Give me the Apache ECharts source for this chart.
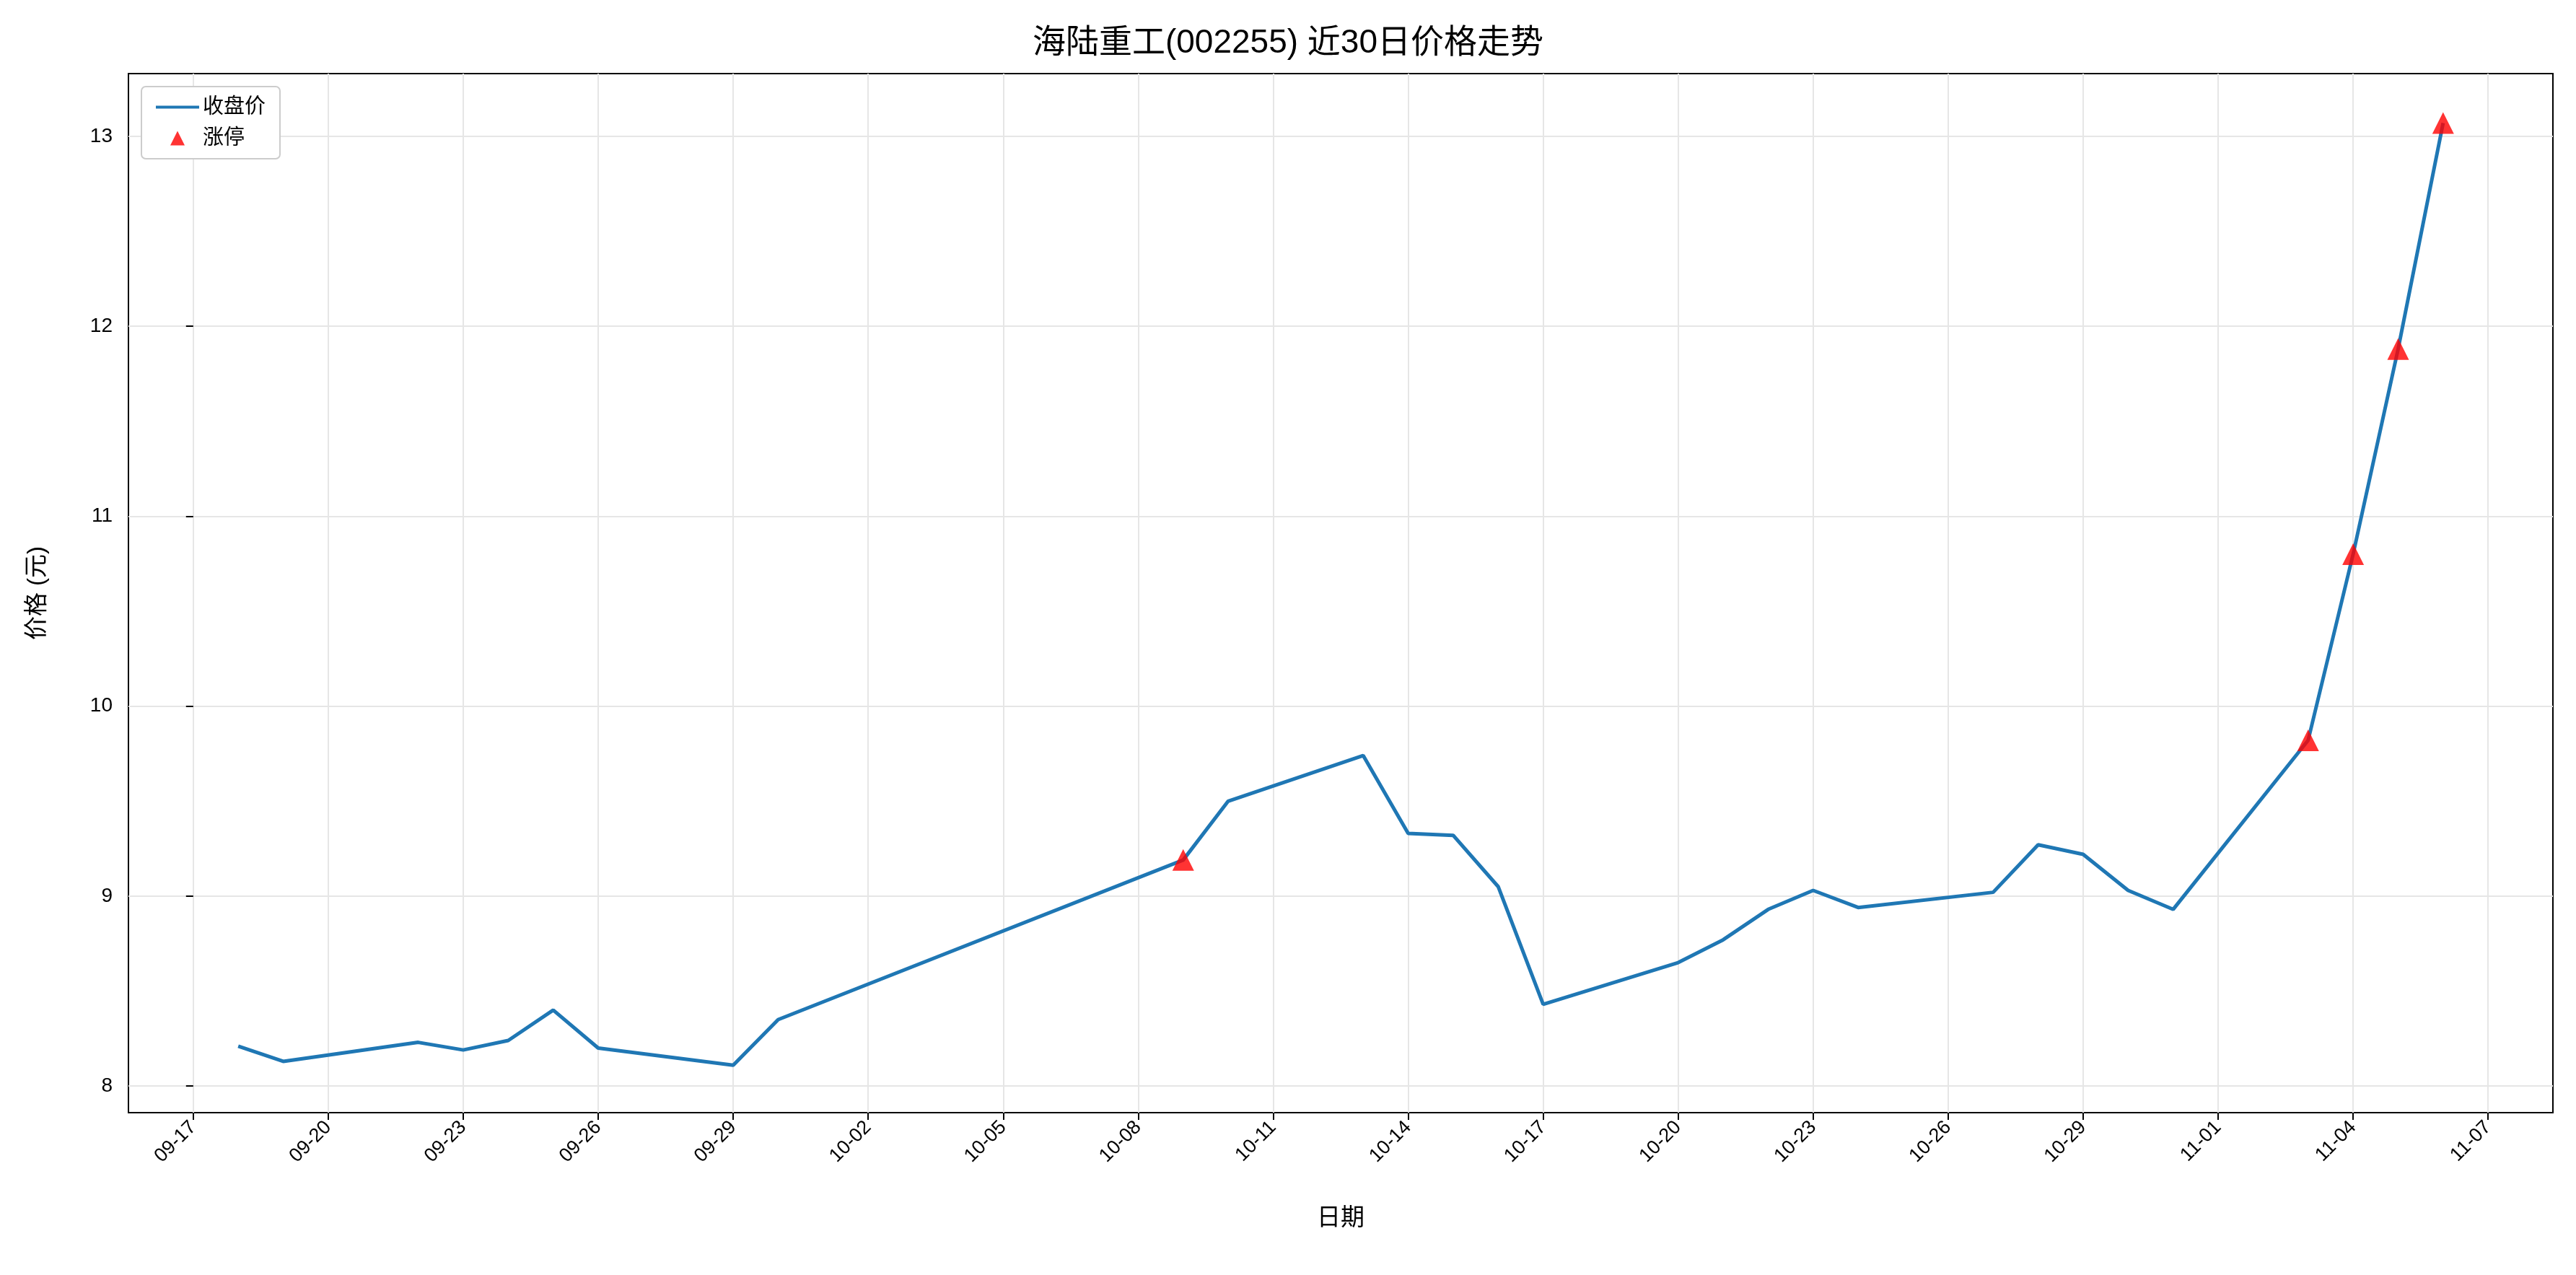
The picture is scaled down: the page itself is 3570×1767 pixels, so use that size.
<!DOCTYPE html>
<html>
<head>
<meta charset="utf-8">
<script src="https://cdn.jsdelivr.net/npm/echarts@6/dist/echarts.min.js"></script>
<style>html,body{margin:0;padding:0;background:#fff}#chart{width:3570px;height:1767px}</style>
</head>
<body>
<div id="chart"></div>
<script>
const dates = ["09-18","09-19","09-22","09-23","09-24","09-25","09-26","09-29","09-30","10-09",
  "10-10","10-13","10-14","10-15","10-16","10-17","10-20","10-21","10-22","10-23",
  "10-24","10-27","10-28","10-29","10-30","10-31","11-03","11-04","11-05","11-06"];
const closes = [8.21,8.13,8.23,8.19,8.24,8.40,8.20,8.11,8.35,9.19,
  9.50,9.74,9.33,9.32,9.05,8.43,8.65,8.77,8.93,9.03,
  8.94,9.02,9.27,9.22,9.03,8.93,9.82,10.80,11.88,13.07];
const limitUpDates = ["10-09","11-03","11-04","11-05","11-06"];
const yTicks = [8, 9, 10, 11, 12, 13];

// day offset from 09-17
function dayIdx(md) {
  const [m, d] = md.split("-").map(Number);
  return Math.round((Date.UTC(2025, m - 1, d) - Date.UTC(2025, 8, 17)) / 86400000);
}
function dayLabel(v) {
  const t = new Date(Date.UTC(2025, 8, 17) + Math.round(v) * 86400000);
  return String(t.getUTCMonth() + 1).padStart(2, "0") + "-" + String(t.getUTCDate()).padStart(2, "0");
}
const xTicks = [];
for (let i = 0; i <= 51; i += 3) xTicks.push(i);

const lineData = dates.map((d, i) => [dayIdx(d), closes[i]]);
const limitData = limitUpDates.map(d => [dayIdx(d), closes[dates.indexOf(d)]]);

const font = "Arial, 'Liberation Sans', 'Noto Sans CJK SC', sans-serif";
const chart = echarts.init(document.getElementById("chart"));
chart.setOption({
  animation: false,
  textStyle: { fontFamily: font },
  title: {
    text: "海陆重工(002255) 近30日价格走势",
    left: "center", top: 32,
    textStyle: { fontSize: 46, fontWeight: "normal", color: "#000", fontFamily: font }
  },
  legend: {
    left: 196, top: 120, orient: "vertical",
    itemGap: 14, itemWidth: 60, itemHeight: 24,
    backgroundColor: "#fff", borderColor: "#ccc", borderWidth: 2, borderRadius: 6, padding: [14, 20],
    textStyle: { fontSize: 29, color: "#000" },
    data: [
      { name: "收盘价", icon: "path://M0,10 L60,10 L60,14 L0,14 Z" },
      { name: "涨停", icon: "path://M0,0 L0.01,0 L0,0.01 Z M30,2 L40,22 L20,22 Z M60,24 L59.99,24 L60,23.99 Z", itemStyle: { color: "red" } }
    ]
  },
  grid: { left: 178, right: 32, top: 102, bottom: 225, show: true, borderColor: "#000", borderWidth: 2 },
  xAxis: {
    type: "value", min: -1.44, max: 52.44,
    name: "日期", nameLocation: "middle", nameGap: 130,
    nameTextStyle: { fontSize: 33, color: "#000" },
    axisLine: { show: false },
    axisTick: { show: true, inside: false, customValues: xTicks, length: 10, lineStyle: { color: "#000", width: 2 } },
    axisLabel: { customValues: xTicks, formatter: dayLabel, rotate: 45, fontSize: 27, color: "#000", margin: 16 },
    splitLine: { show: true, lineStyle: { color: "#e6e6e6", width: 2 } }
  },
  yAxis: {
    type: "value", min: 7.86, max: 13.33,
    name: "价格 (元)", nameLocation: "middle", nameGap: 110, nameRotate: 90,
    nameTextStyle: { fontSize: 33, color: "#000" },
    axisLine: { show: false },
    axisTick: { show: true, inside: false, customValues: yTicks, length: 10, lineStyle: { color: "#000", width: 2 } },
    axisLabel: { customValues: yTicks, fontSize: 28, color: "#000", margin: 22 },
    splitLine: { show: true, lineStyle: { color: "#e6e6e6", width: 2 } }
  },
  series: [
    {
      name: "收盘价", type: "line", data: lineData, showSymbol: false,
      lineStyle: { color: "#1f77b4", width: 5 }, itemStyle: { color: "#1f77b4" }
    },
    {
      name: "涨停", type: "scatter", data: limitData, symbol: "triangle", symbolSize: 30,
      itemStyle: { color: "red" }, z: 5
    }
  ]
});
</script>
</body>
</html>
